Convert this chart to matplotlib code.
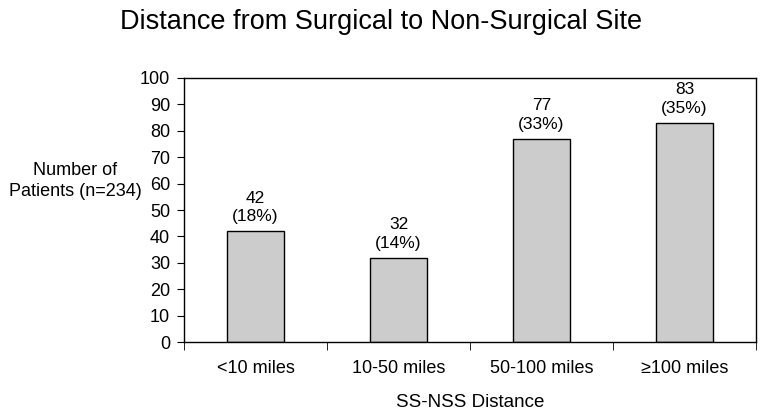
import matplotlib
matplotlib.use("Agg")
import matplotlib.pyplot as plt
import numpy as np

categories = ["<10 miles", "10-50 miles", "50-100 miles", "\u2265100 miles"]
counts = [42, 32, 77, 83]
percents = [18, 14, 33, 35]
yticks = [0, 10, 20, 30, 40, 50, 60, 70, 80, 90, 100]

plt.rcParams['font.family'] = ['Liberation Sans', 'DejaVu Sans']

fig = plt.figure(figsize=(7.62, 4.15), dpi=100)
ax = fig.add_axes([184/762, 1 - 342/415, (756 - 184)/762, (342 - 78)/415])

x = np.arange(len(categories))
bars = ax.bar(x, counts, width=0.4, color="#cccccc", edgecolor="black", linewidth=1.0)

for xi, c, p in zip(x, counts, percents):
    ax.annotate(f"{c}\n({p}%)", (xi, c), xytext=(0, 5), textcoords="offset points",
                ha="center", va="bottom", fontsize=12.5, linespacing=1.3)

ax.set_xlim(-0.5, len(categories) - 0.5)
ax.set_ylim(0, 100)
ax.set_yticks(yticks)
ax.set_yticklabels([str(t) for t in yticks], fontsize=13)
ax.set_xticks(x)
ax.set_xticklabels(categories, fontsize=13)
ax.set_xticks(np.arange(-0.5, len(categories), 1.0), minor=True)
ax.tick_params(axis="x", which="major", length=0, pad=13)
ax.tick_params(axis="x", which="minor", length=6, direction="out")
ax.tick_params(axis="y", length=5, direction="out", pad=5)
for s in ax.spines.values():
    s.set_linewidth(1.0)

ax.set_xlabel("SS-NSS Distance", fontsize=13.5, labelpad=12)
fig.text(75/762, 1 - 181/415, "Number of\nPatients (n=234)", ha="center", va="center",
         fontsize=13, linespacing=1.25)
fig.text(0.5, 1 - 22/415, "Distance from Surgical to Non-Surgical Site", ha="center", va="center", fontsize=19.5)

fig.savefig("out.png", dpi=100)
